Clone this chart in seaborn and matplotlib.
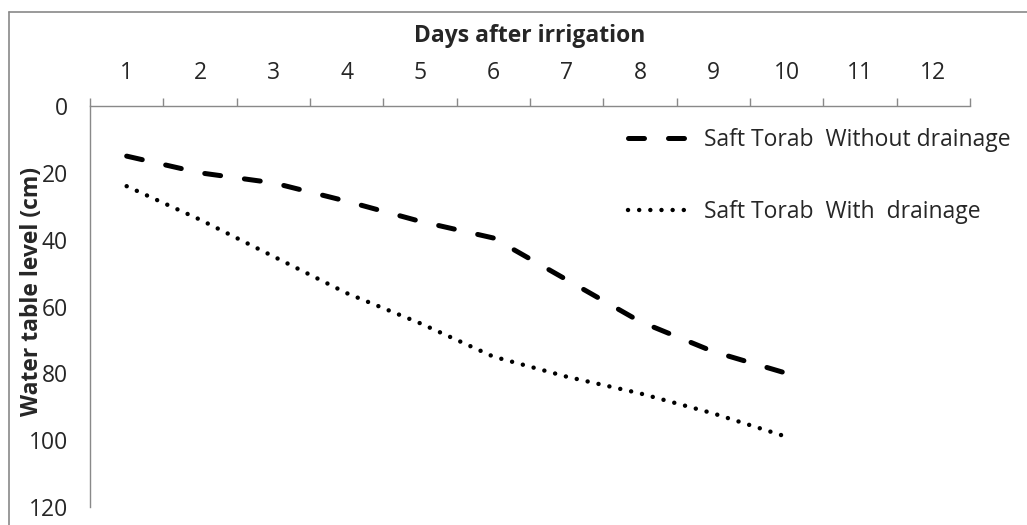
import matplotlib
matplotlib.use("Agg")
import matplotlib.pyplot as plt
from matplotlib.lines import Line2D
from matplotlib.ticker import FixedLocator, NullFormatter
import seaborn as sns
import pandas as pd

# values
days = [1, 2, 3, 4, 5, 6, 7, 8, 9, 10]
without_drainage = [15, 20, 23, 28.5, 34.5, 39.5, 52, 64.5, 73.5, 80]
with_drainage = [24, 34, 45, 56, 65, 75, 81, 86, 92, 99]
day_ticks = list(range(1, 13))
level_ticks = [0, 20, 40, 60, 80, 100, 120]

label_without = "Saft Torab  Without drainage"
label_with = "Saft Torab  With  drainage"

sns.set_style("white")
plt.rcParams["font.family"] = ["Open Sans", "DejaVu Sans"]
fs = 16.5

grey = "#898989"
W, H = 1027, 525
fig = plt.figure(figsize=(W / 100, H / 100), dpi=100)
ax = fig.add_axes([90 / W, 1 - 507 / H, 880 / W, 401 / H])

df = pd.DataFrame({"day": days, "without": without_drainage, "with": with_drainage})

sns.lineplot(data=df, x="day", y="without", ax=ax, color="black", lw=3.6,
             linestyle=(0, (3.2, 4.8)), dash_capstyle="round", label=label_without)
sns.lineplot(data=df, x="day", y="with", ax=ax, color="black", lw=3.2,
             linestyle=(0, (0.01, 2.5)), dash_capstyle="round", label=label_with)

ax.set_xlim(0.5, 12.5)
ax.set_ylim(120, 0)
ax.set_yticks(level_ticks)
ax.set_xticks(day_ticks)
ax.xaxis.set_minor_locator(FixedLocator([d + 0.5 for d in [0] + day_ticks]))
ax.xaxis.set_minor_formatter(NullFormatter())

ax.xaxis.tick_top()
ax.xaxis.set_label_position("top")
ax.tick_params(axis="x", which="major", length=0, pad=15, labelsize=fs)
ax.tick_params(axis="x", which="minor", length=6, width=1, color=grey, direction="out")
ax.tick_params(axis="y", length=6, width=1, color=grey, direction="out", pad=10, labelsize=fs)

for side in ["right", "bottom"]:
    ax.spines[side].set_visible(False)
for side in ["top", "left"]:
    ax.spines[side].set_color(grey)
    ax.spines[side].set_linewidth(1.0)

# top x label anchors at its top edge, so this sits the text near y=34 px
ax.set_xlabel("Days after irrigation", fontsize=fs, fontweight="bold")
ax.xaxis.set_label_coords(0.5, (507 - 42) / 401, transform=ax.transAxes)
ax.set_ylabel("Water table level (cm)", fontsize=fs, fontweight="bold")
ax.yaxis.set_label_coords((44 - 90) / 880, (507 - 292) / 401, transform=ax.transAxes)

ax.legend(loc="center left", bbox_to_anchor=(628 / W, 1 - 176 / H),
          bbox_transform=fig.transFigure, frameon=False, fontsize=fs,
          handlelength=2.8, handletextpad=0.5, labelspacing=2.1,
          borderpad=0, borderaxespad=0)

# outer chart border (left and top edges visible)
fig.add_artist(Line2D([8.5 / W, 8.5 / W], [0, 1 - 11.5 / H], color=grey, lw=1.2))
fig.add_artist(Line2D([8.5 / W, 1], [1 - 11.5 / H, 1 - 11.5 / H], color=grey, lw=1.2))

fig.savefig("out.png", dpi=100)
